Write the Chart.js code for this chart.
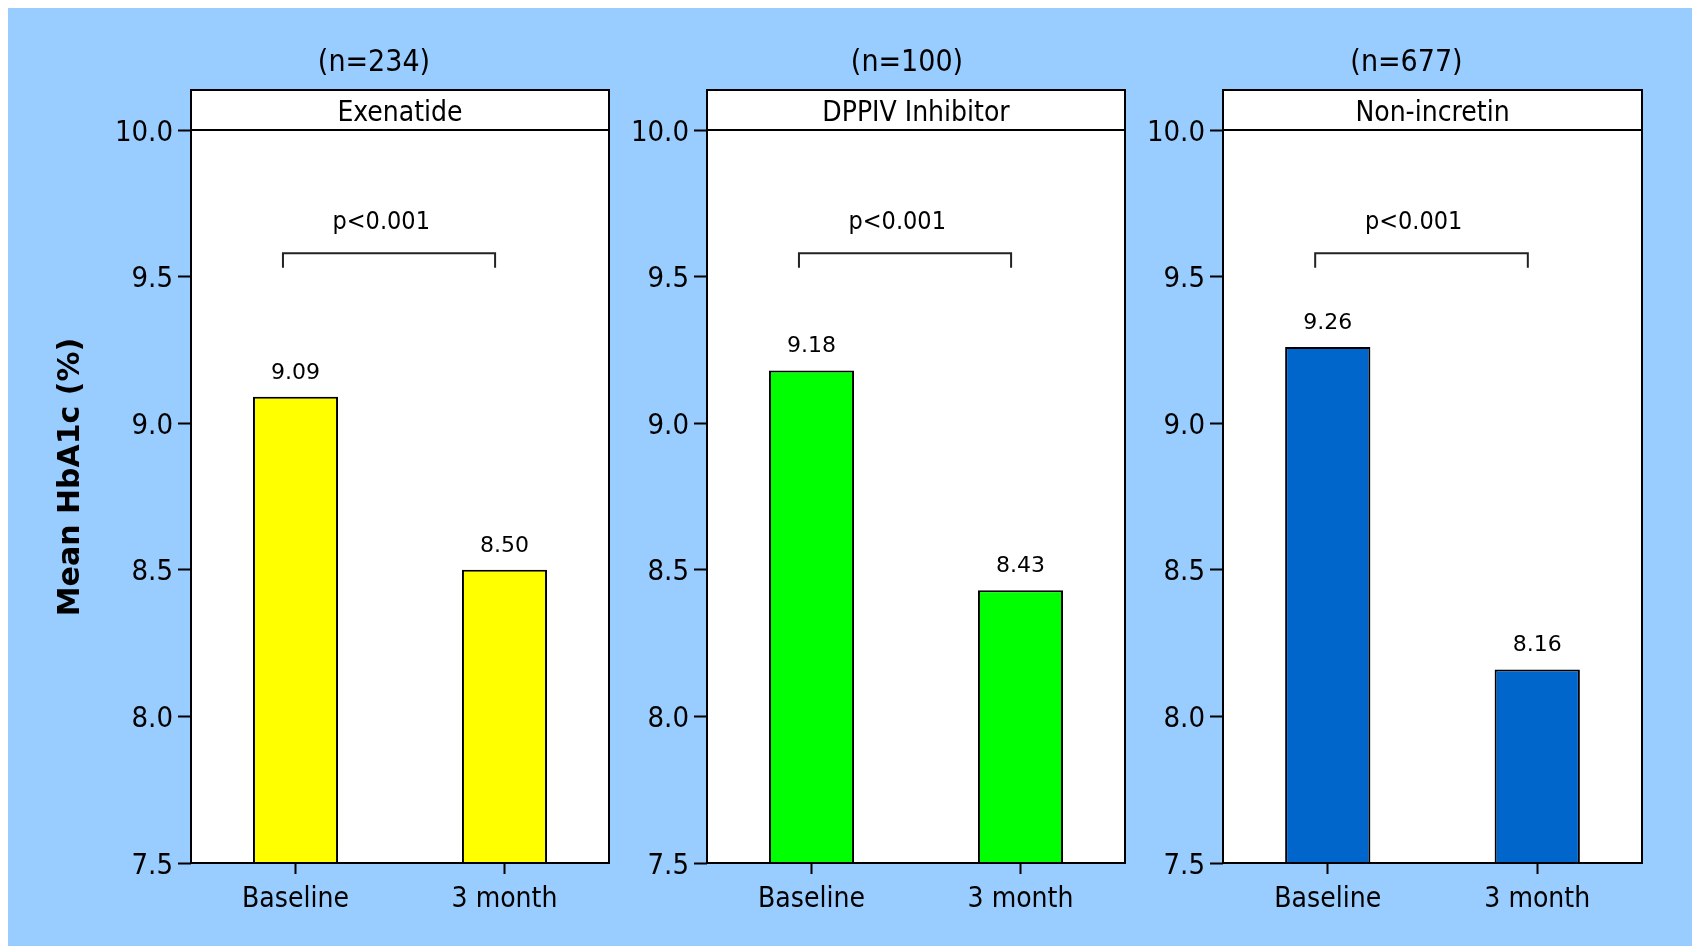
<!DOCTYPE html>
<html>
<head>
<meta charset="utf-8">
<title>Mean HbA1c</title>
<script src="https://cdn.jsdelivr.net/npm/chart.js@4.4.1/dist/chart.umd.min.js"></script>
<style>
    body { margin: 0; background: #fff; width: 1692px; height: 946px; overflow: hidden; position: relative; }
    #bg { position: absolute; left: 8px; top: 8px; right: 0; bottom: 0; background: #99ccff; }
    canvas { position: absolute; left: 0; top: 0; }
</style>
</head>
<body>
<div id="bg"></div>
<canvas id="panel0" width="1692" height="946"></canvas>
<canvas id="panel1" width="1692" height="946"></canvas>
<canvas id="panel2" width="1692" height="946"></canvas>
<script>
// Datos
const timepoints = ['Baseline', '3 month'];
const groups = ['Exenatide', 'DPPIV Inhibitor', 'Non-incretin'];
const groupN = ['(n=234)', '(n=100)', '(n=677)'];
const exenatide = [9.09, 8.50];
const dppiv = [9.18, 8.43];
const nonIncretin = [9.26, 8.16];
const pLabels = ['p<0.001', 'p<0.001', 'p<0.001'];
const yTicks = [7.5, 8.0, 8.5, 9.0, 9.5, 10.0];

const series = [exenatide, dppiv, nonIncretin];
const colors = ['#ffff00', '#00ff00', '#0066cc'];

// Layout
const panelLeft = [191, 707, 1223];
const panelRight = [609, 1125, 1642];
const nShift = [-26, -9, -26];
const PLOT_TOP = 130, PLOT_BOTTOM = 863, STRIP = 40;
const COND = "'DejaVu Sans Condensed', 'DejaVu Sans', sans-serif";
const WIDE = "'DejaVu Sans', Verdana, sans-serif";

const panelPlugin = {
    id: 'panel',
    beforeDraw(chart) {
        const a = chart.chartArea;
        const ctx = chart.ctx;
        ctx.save();
        ctx.fillStyle = '#fff';
        ctx.fillRect(a.left, a.top - STRIP, a.right - a.left, a.bottom - a.top + STRIP);
        ctx.restore();
    },
    afterDraw(chart, args, opts) {
        const a = chart.chartArea;
        const ctx = chart.ctx;
        const x = chart.scales.x, y = chart.scales.y;
        ctx.save();

        // marco y franja
        ctx.strokeStyle = '#000';
        ctx.lineWidth = 2;
        ctx.strokeRect(a.left, a.top - STRIP, a.right - a.left, a.bottom - a.top + STRIP);
        ctx.beginPath();
        ctx.moveTo(a.left, a.top);
        ctx.lineTo(a.right, a.top);
        ctx.stroke();

        ctx.fillStyle = '#000';
        ctx.textAlign = 'center';
        ctx.textBaseline = 'middle';
        ctx.font = '28px ' + COND;
        ctx.fillText(opts.group, (a.left + a.right) / 2, a.top - STRIP / 2 + 4);
        ctx.font = '30px ' + COND;
        ctx.fillText(opts.n, (a.left + a.right) / 2 + opts.shift, 63);

        // valores sobre las barras
        ctx.font = '22px ' + WIDE;
        ctx.textBaseline = 'alphabetic';
        const values = chart.data.datasets[0].data;
        chart.getDatasetMeta(0).data.forEach((bar, i) => {
            ctx.fillText(values[i].toFixed(2), bar.x, bar.y - 18);
        });

        // corchete p
        const x0 = x.getPixelForValue(0), x1 = x.getPixelForValue(1);
        const bx = t => x0 + (x1 - x0) * t;
        ctx.strokeStyle = '#222';
        ctx.beginPath();
        ctx.moveTo(bx(-0.06), y.getPixelForValue(9.53));
        ctx.lineTo(bx(-0.06), y.getPixelForValue(9.58));
        ctx.lineTo(bx(0.955), y.getPixelForValue(9.58));
        ctx.lineTo(bx(0.955), y.getPixelForValue(9.53));
        ctx.stroke();
        ctx.font = '25px ' + COND;
        ctx.textBaseline = 'middle';
        ctx.fillText(opts.p, bx(0.41), y.getPixelForValue(9.69) + 2);

        if (opts.yTitle) {
            ctx.translate(71, 477);
            ctx.rotate(-Math.PI / 2);
            ctx.font = 'bold 30px ' + WIDE;
            ctx.fillText(opts.yTitle, 0, 0);
        }
        ctx.restore();
    }
};

groups.forEach((g, i) => {
    const axisW = i === 0 ? panelLeft[0] : 120;
    new Chart(document.getElementById('panel' + i), {
        type: 'bar',
        data: {
            labels: timepoints,
            datasets: [{
                data: series[i],
                backgroundColor: colors[i],
                borderColor: '#000',
                borderWidth: 2,
                barPercentage: 0.407,
                categoryPercentage: 1
            }]
        },
        options: {
            responsive: false,
            animation: false,
            devicePixelRatio: 1,
            layout: {
                padding: { left: panelLeft[i] - axisW, right: 1692 - panelRight[i], top: PLOT_TOP, bottom: 0 }
            },
            plugins: {
                legend: { display: false },
                tooltip: { enabled: false },
                panel: {
                    group: g,
                    n: groupN[i],
                    shift: nShift[i],
                    p: pLabels[i],
                    yTitle: i === 0 ? 'Mean HbA1c (%)' : null
                }
            },
            scales: {
                x: {
                    grid: { display: true, offset: false, drawOnChartArea: false, drawTicks: true, tickLength: 11, tickWidth: 2, tickColor: '#000' },
                    border: { display: false },
                    ticks: { color: '#000', font: { family: COND, size: 28 }, padding: 9, maxRotation: 0 },
                    afterFit: s => { s.height = 946 - PLOT_BOTTOM; }
                },
                y: {
                    min: 7.5,
                    max: 10,
                    afterBuildTicks: s => { s.ticks = yTicks.map(v => ({ value: v })); },
                    grid: { display: true, drawOnChartArea: false, drawTicks: true, tickLength: 13, tickWidth: 2, tickColor: '#000' },
                    border: { display: false },
                    ticks: { color: '#000', font: { family: COND, size: 29 }, padding: 5, labelOffset: 3, callback: v => v.toFixed(1) },
                    afterFit: s => { s.width = axisW; }
                }
            }
        },
        plugins: [panelPlugin]
    });
});
</script>
</body>
</html>
